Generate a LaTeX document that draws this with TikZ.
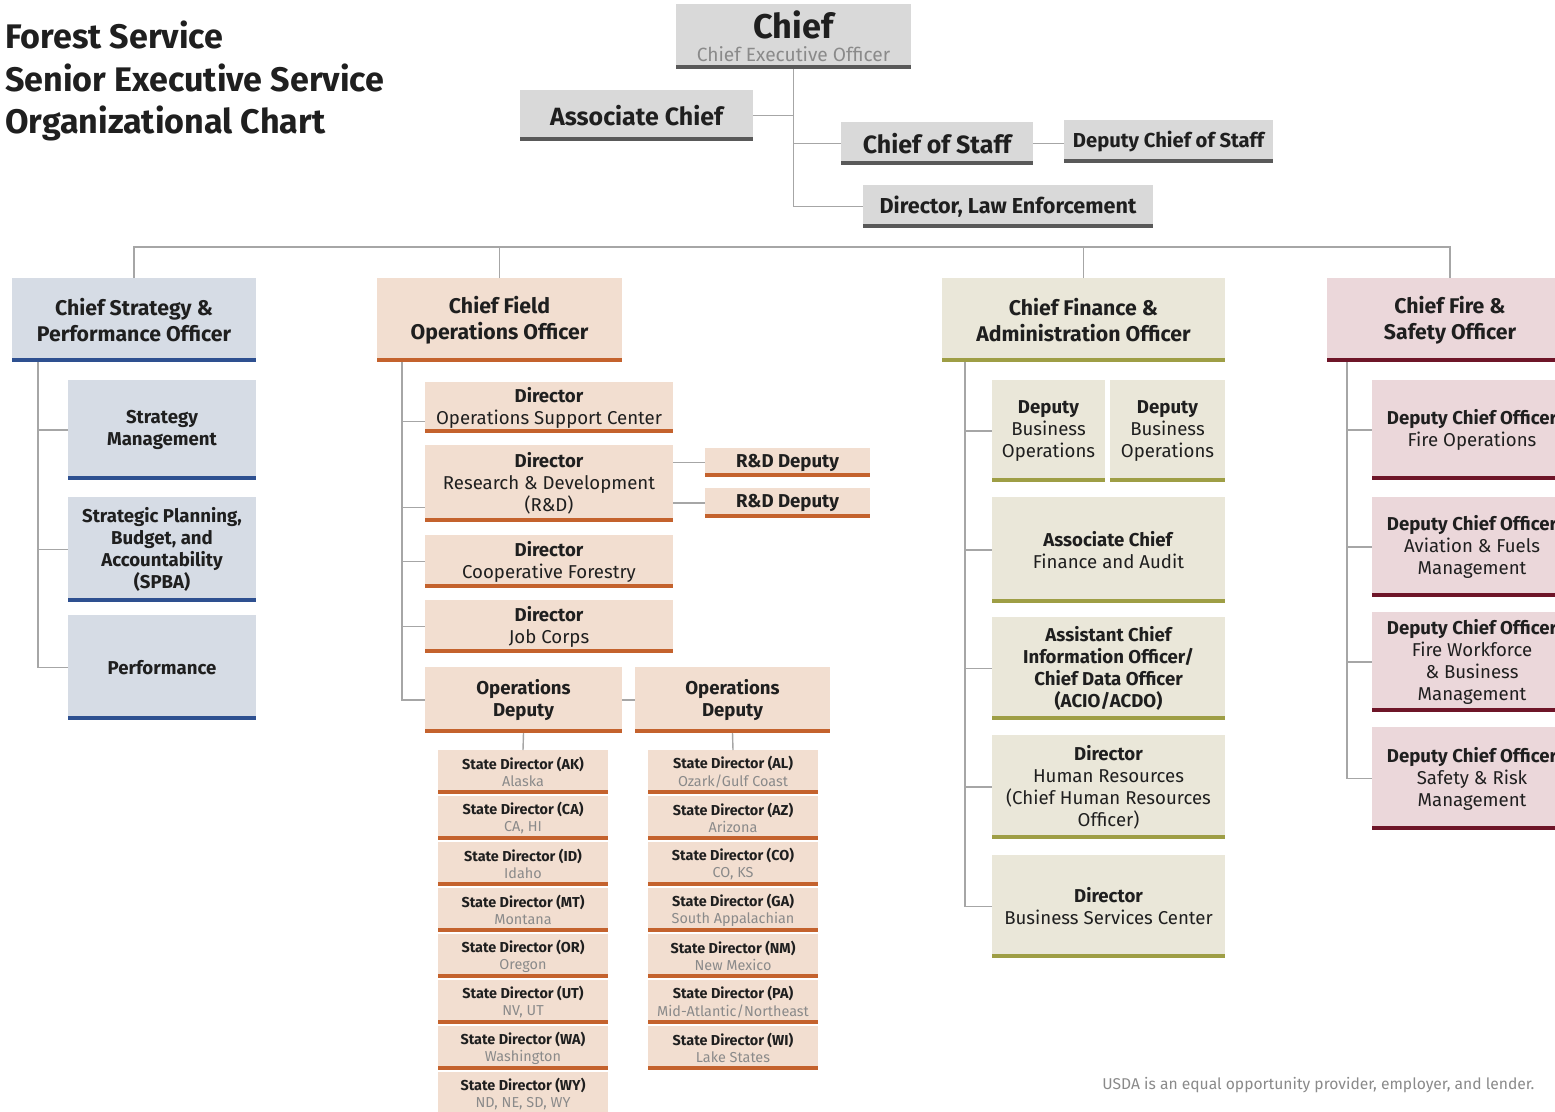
\documentclass[tikz,border=0pt]{standalone}
\usepackage{fontspec}
\setmainfont{Fira Sans}
\usetikzlibrary{positioning}

\newlength{\pxu}
\setlength{\pxu}{0.02cm}

\definecolor{cgray}{HTML}{D9D9D9}
\definecolor{cgraybar}{HTML}{595959}
\definecolor{cgraytext}{HTML}{8A8A8A}
\definecolor{cblue}{HTML}{D6DCE5}
\definecolor{cbluebar}{HTML}{2E5090}
\definecolor{corange}{HTML}{F2DED0}
\definecolor{corangebar}{HTML}{C4622D}
\definecolor{colive}{HTML}{EAE7D9}
\definecolor{colivebar}{HTML}{9E9E45}
\definecolor{cred}{HTML}{EBD7DA}
\definecolor{credbar}{HTML}{6E1528}
\definecolor{clink}{HTML}{A6A6A6}
\definecolor{ctext}{HTML}{1F1F1F}

\tikzset{
  unit/.style 2 args={fill=#1, text=ctext, inner sep=0pt, outer sep=0pt,
    anchor=north west, align=center,
    path picture={\fill[#2] (path picture bounding box.south west)
      rectangle ([yshift=4\pxu]path picture bounding box.south east);}},
  box size/.style 2 args={minimum width=#1\pxu, minimum height=#2\pxu},
  topbox/.style={unit={cgray}{cgraybar}, font=\fontsize{14.2}{16}\selectfont\bfseries},
  headbox/.style={font=\fontsize{12.1}{14.8}\selectfont\bfseries},
  subbox/.style={font=\fontsize{10.6}{12.5}\selectfont},
  boldsub/.style={font=\fontsize{10.6}{12.5}\selectfont\bfseries},
  bluebox/.style={unit={cblue}{cbluebar}},
  orangebox/.style={unit={corange}{corangebar}},
  olivebox/.style={unit={colive}{colivebar}},
  redbox/.style={unit={cred}{credbar}},
  statebox/.style={unit={corange}{corangebar}, box size={170}{44},
    font=\fontsize{8.2}{9.8}\selectfont},
  link/.style={draw=clink, line width=0.8pt},
}

\begin{document}
\begin{tikzpicture}[x=0.02cm, y=-0.02cm]
  \useasboundingbox (0,0) rectangle (1555,1112);
  \clip (0,0) rectangle (1555,1112);

  % title
  \node[anchor=north west, inner sep=0pt, align=left, text=ctext,
    font=\fontsize{19.4}{24}\selectfont\bfseries] (ttl) at (5,21)
    {Forest Service\\Senior Executive Service\\Organizational Chart};

  % top office
  \node[topbox, box size={235}{65}] (chief) at (676,4)
    {{\fontsize{19.5}{20}\selectfont Chief}\\[-3pt]
     {\fontsize{10.9}{12}\selectfont\mdseries\color{cgraytext}Chief Executive Officer}};
  \node[topbox, box size={233}{51}] (assoc) at (520,90) {Associate Chief};
  \node[topbox, box size={192}{43}] (cos) at (841,122) {Chief of Staff};
  \node[topbox, box size={209}{43}, font=\fontsize{11.5}{13}\selectfont\bfseries]
    (dcos) at (1064,120) {Deputy Chief of Staff};
  \node[topbox, box size={290}{43}, font=\fontsize{12.3}{14}\selectfont\bfseries]
    (lawenf) at (863,185) {Director, Law Enforcement};

  \draw[link] (chief.south) |- (lawenf.west);
  \draw[link] (assoc.east) -- (assoc.east -| chief.south);
  \draw[link] (cos.west -| chief.south) -- (cos.west);
  \draw[link] (cos.east) -- (cos.east -| dcos.west);

  % deputy chief areas
  \node[bluebox, headbox, box size={244}{84}] (csp) at (12,278)
    {Chief Strategy \&\\Performance Officer};
  \node[orangebox, headbox, box size={245}{84}] (cfo) at (377,278)
    {Chief Field\\Operations Officer};
  \node[olivebox, headbox, box size={283}{84}] (cfa) at (942,278)
    {Chief Finance \&\\Administration Officer};
  \node[redbox, headbox, box size={246}{84}] (cfs) at (1327,278)
    {Chief Fire \&\\Safety Officer};

  \coordinate (bus) at (0,247);
  \draw[link] (csp.north) |- (bus -| cfs.north) -- (cfs.north);
  \draw[link] (cfo.north) -- (cfo.north |- bus);
  \draw[link] (cfa.north) -- (cfa.north |- bus);

  % strategy & performance
  \node[bluebox, boldsub, box size={188}{100}] (strat) at (68,380)
    {Strategy\\Management};
  \node[bluebox, boldsub, box size={188}{105}] (spba) at (68,497)
    {Strategic Planning,\\Budget, and\\Accountability\\(SPBA)};
  \node[bluebox, boldsub, box size={188}{105}] (perf) at (68,615)
    {Performance};
  \coordinate (csp-s) at ([xshift=26\pxu]csp.south west);
  \foreach \n in {strat,spba,perf}
    \draw[link] (csp-s) |- (\n.west);

  % field operations
  \node[orangebox, subbox, box size={248}{51}] (osc) at (425,382)
    {\textbf{Director}\\Operations Support Center};
  \node[orangebox, subbox, box size={248}{77}] (rnd) at (425,445)
    {\textbf{Director}\\Research \& Development\\(R\&D)};
  \node[orangebox, subbox, box size={248}{53}] (coop) at (425,535)
    {\textbf{Director}\\Cooperative Forestry};
  \node[orangebox, subbox, box size={248}{53}] (jobc) at (425,600)
    {\textbf{Director}\\Job Corps};
  \node[orangebox, boldsub, box size={165}{29}] (rdd1) at (705,448)
    {R\&D Deputy};
  \node[orangebox, boldsub, box size={165}{30}] (rdd2) at (705,488)
    {R\&D Deputy};
  \node[orangebox, boldsub, box size={197}{66}] (opsa) at (425,667)
    {Operations\\Deputy};
  \node[orangebox, boldsub, box size={195}{66}] (opsb) at (635,667)
    {Operations\\Deputy};

  \coordinate (cfo-s) at ([xshift=25\pxu]cfo.south west);
  \draw[link] (cfo-s) |- ([yshift=-14\pxu]osc.west);
  \draw[link] (cfo-s) |- ([yshift=-24\pxu]rnd.west);
  \foreach \n in {coop,jobc,opsa}
    \draw[link] (cfo-s) |- (\n.west);
  \draw[link] (rdd1.west -| rnd.east) -- (rdd1.west);
  \draw[link] (rdd2.west -| rnd.east) -- (rdd2.west);
  \draw[link] (opsa.east) -- (opsb.west);

  % state directors
  \foreach \st/\area [count=\i from 0] in {AK/Alaska, CA/{CA, HI}, ID/Idaho,
      MT/Montana, OR/Oregon, UT/{NV, UT}, WA/Washington, WY/{ND, NE, SD, WY}}
    \node[statebox] (sda\i) at (438,750+46*\i)
      {\textbf{State Director (\st)}\\{\color{cgraytext}\area}};
  \foreach \st/\area [count=\i from 0] in {AL/{Ozark/Gulf Coast}, AZ/Arizona,
      CO/{CO, KS}, GA/South Appalachian, NM/New Mexico,
      PA/{Mid-Atlantic/Northeast}, WI/Lake States}
    \node[statebox] (sdb\i) at (648,750+46*\i)
      {\textbf{State Director (\st)}\\{\color{cgraytext}\area}};
  \draw[link] (opsa.south) -- (sda0.north);
  \draw[link] (opsb.south) -- (sdb0.north);

  % finance & administration
  \node[olivebox, subbox, box size={113}{102}] (dbo1) at (992,380)
    {\textbf{Deputy}\\Business\\Operations};
  \node[olivebox, subbox, box size={115}{102}] (dbo2) at (1110,380)
    {\textbf{Deputy}\\Business\\Operations};
  \node[olivebox, subbox, box size={233}{106}] (acfa) at (992,497)
    {\textbf{Associate Chief}\\Finance and Audit};
  \node[olivebox, boldsub, box size={233}{103}] (acio) at (992,617)
    {Assistant Chief\\Information Officer/\\Chief Data Officer\\(ACIO/ACDO)};
  \node[olivebox, subbox, box size={233}{104}] (dhr) at (992,735)
    {\textbf{Director}\\Human Resources\\(Chief Human Resources\\Officer)};
  \node[olivebox, subbox, box size={233}{103}] (bsc) at (992,855)
    {\textbf{Director}\\Business Services Center};
  \coordinate (cfa-s) at ([xshift=23\pxu]cfa.south west);
  \foreach \n in {dbo1,acfa,acio,dhr,bsc}
    \draw[link] (cfa-s) |- (\n.west);

  % fire & safety
  \node[redbox, subbox, box size={200}{100}] (dfo) at (1372,380)
    {\textbf{Deputy Chief Officer}\\Fire Operations};
  \node[redbox, subbox, box size={200}{100}] (daf) at (1372,497)
    {\textbf{Deputy Chief Officer}\\Aviation \& Fuels\\Management};
  \node[redbox, subbox, box size={200}{100}] (dfw) at (1372,612)
    {\textbf{Deputy Chief Officer}\\Fire Workforce\\\& Business\\Management};
  \node[redbox, subbox, box size={200}{103}] (dsr) at (1372,727)
    {\textbf{Deputy Chief Officer}\\Safety \& Risk\\Management};
  \coordinate (cfs-s) at ([xshift=20\pxu]cfs.south west);
  \foreach \n in {dfo,daf,dfw,dsr}
    \draw[link] (cfs-s) |- (\n.west);

  % footer
  \node[anchor=base west, inner sep=0pt, text=cgraytext,
    font=\fontsize{8.9}{11}\selectfont] (foot) at (1102,1089)
    {USDA is an equal opportunity provider, employer, and lender.};
\end{tikzpicture}
\end{document}
